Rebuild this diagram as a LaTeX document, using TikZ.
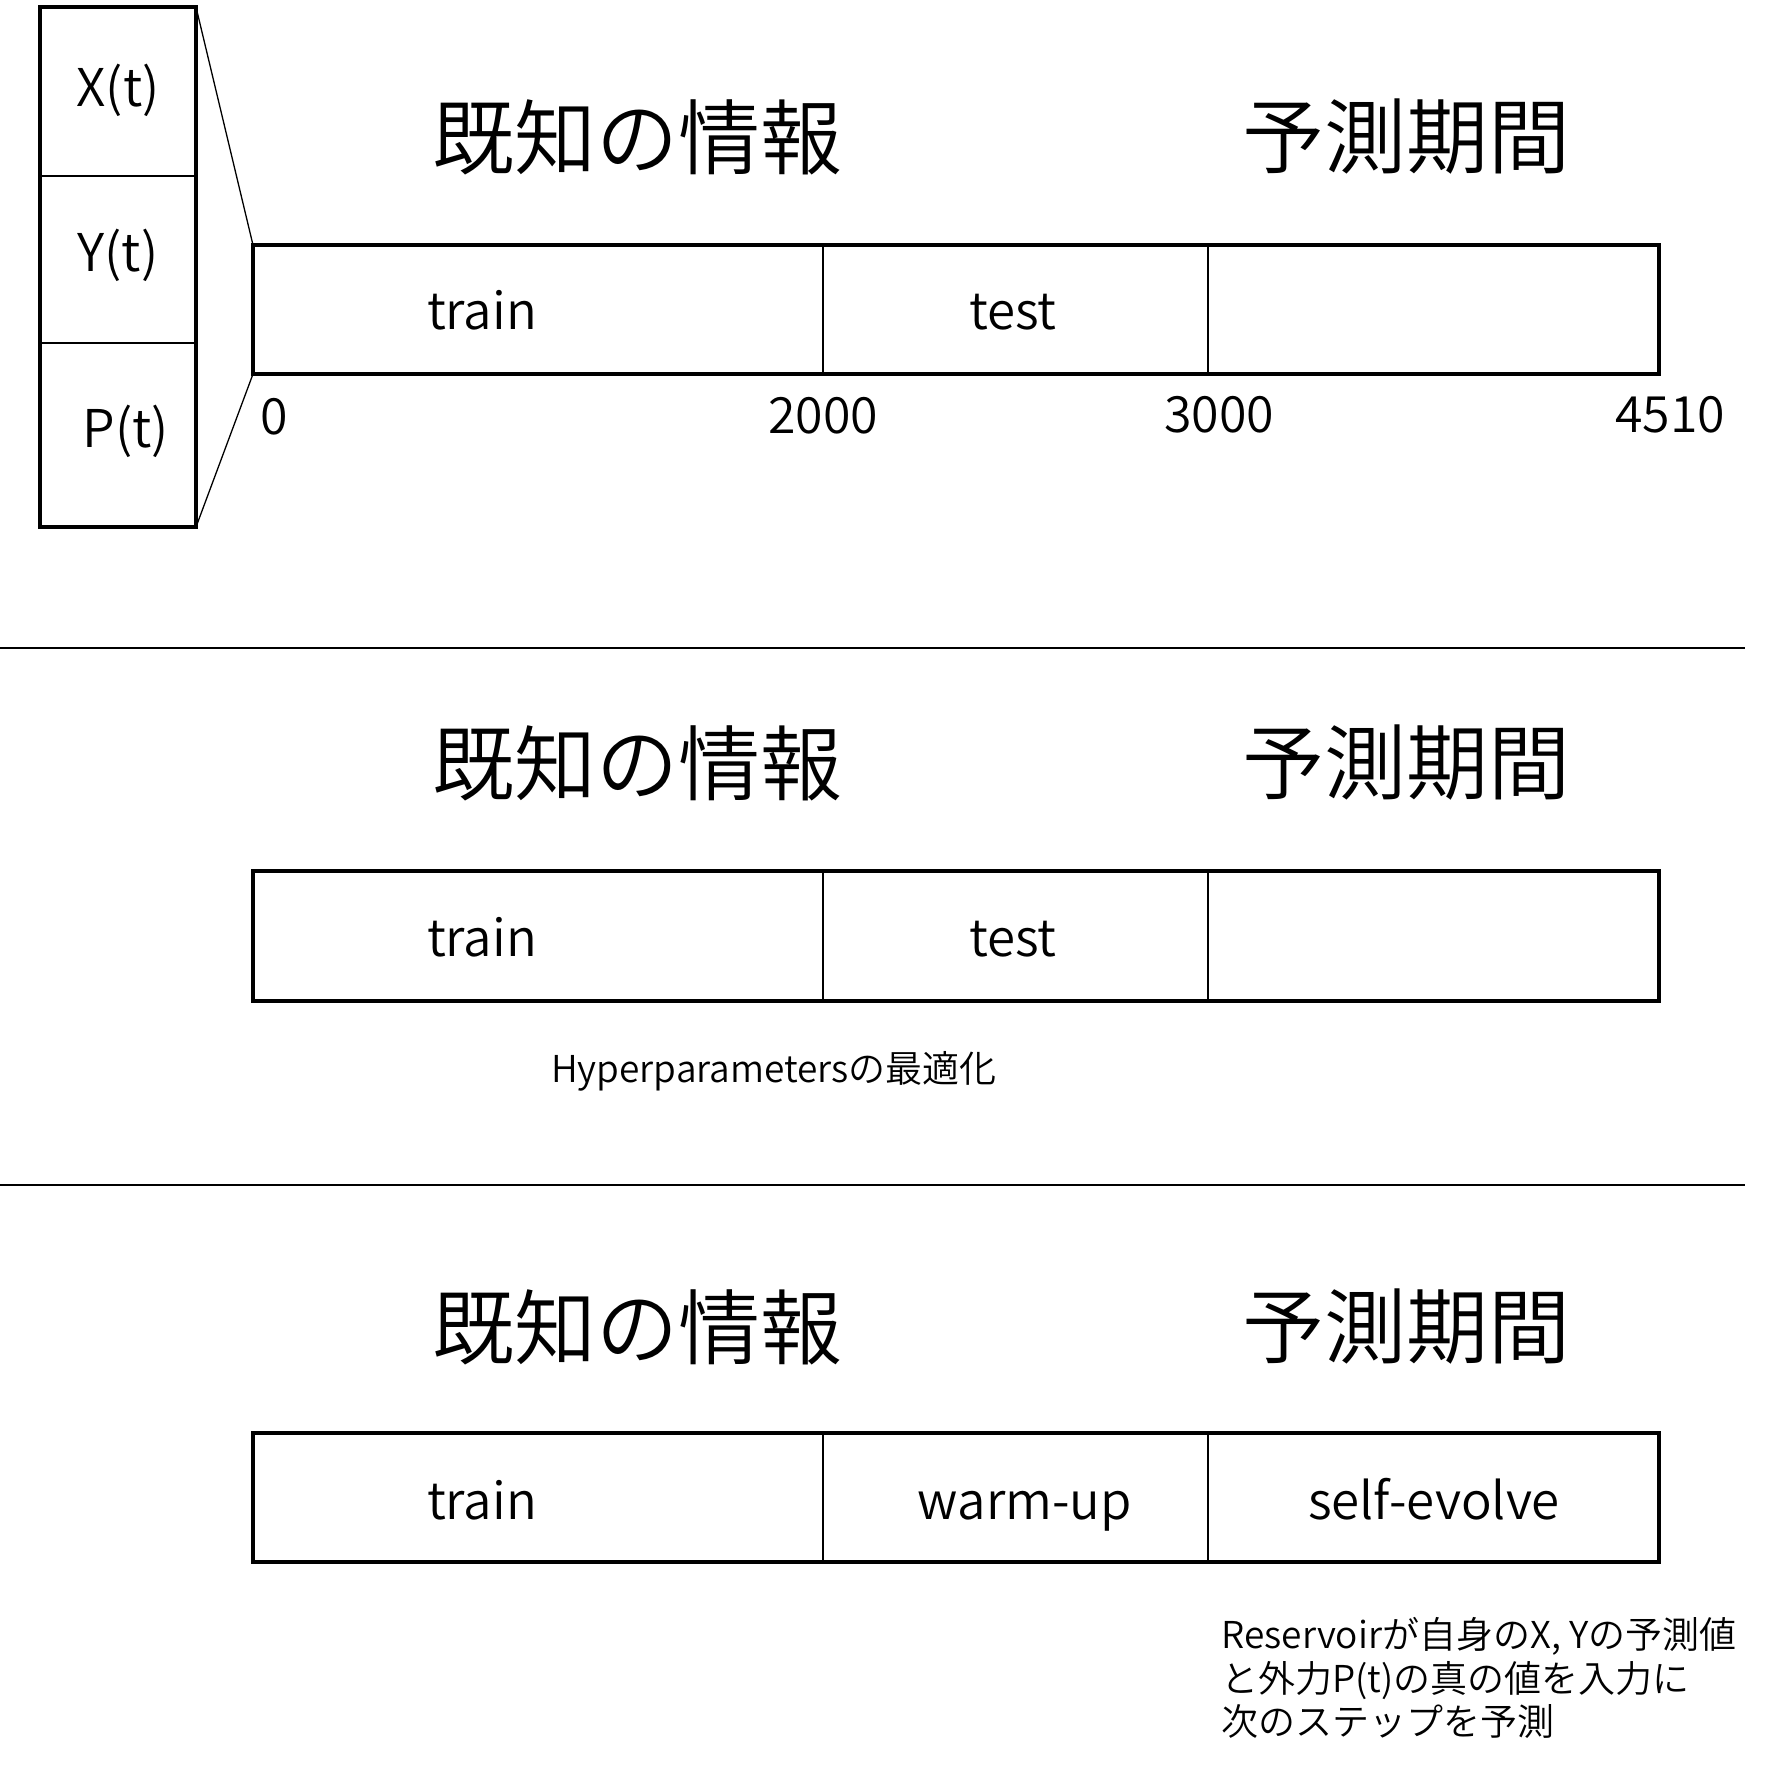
\documentclass[tikz,border=0pt]{standalone}
\usepackage{fontspec}
\setmainfont{Noto Sans CJK JP}[UprightFont=* DemiLight]
\usetikzlibrary{calc}
\begin{document}
\begin{tikzpicture}[x=0.5pt,y=-0.5pt,
  thickbox/.style={draw=black, line width=2pt, inner sep=0pt, outer sep=0pt},
  divider/.style={draw=black, line width=0.75pt},
  thinline/.style={draw=black, line width=0.65pt},
  sepline/.style={draw=black, line width=1pt},
  titletext/.style={font=\fontsize{41}{49}\selectfont, inner sep=0pt},
  segtext/.style={font=\fontsize{25.5}{31}\selectfont, inner sep=0pt, anchor=base},
  numtext/.style={font=\fontsize{25}{30}\selectfont, inner sep=0pt},
  vartext/.style={font=\fontsize{26}{31}\selectfont, inner sep=0pt},
  notetext/.style={font=\fontsize{18.5}{21.5}\selectfont, inner sep=0pt},
]
\useasboundingbox (0,0) rectangle (1792,1769);

% left box with X, Y, P
\node[thickbox, minimum width=78pt, minimum height=260pt] (lbox) at (118,267) {};
\coordinate (ld1l) at (40,176);  \coordinate (ld1r) at (196,176);
\coordinate (ld2l) at (40,343);  \coordinate (ld2r) at (196,343);
\draw[divider] (ld1l) -- (ld1r);
\draw[divider] (ld2l) -- (ld2r);
\node[vartext] (xt) at (118,90) {X(t)};
\node[vartext] (yt) at (118,255) {Y(t)};
\node[vartext] (pt) at (126,431) {P(t)};

% ---------- section 1 ----------
\node[titletext] (t1a) at (637,137) {既知の情報};
\node[titletext] (t1b) at (1406,137) {予測期間};
\node[thickbox, minimum width=703pt, minimum height=64.5pt] (bar1) at (956,309.5) {};
\draw[divider] ($(bar1.north west)+(570,0)$) -- ($(bar1.south west)+(570,0)$);
\draw[divider] ($(bar1.north west)+(955,0)$) -- ($(bar1.south west)+(955,0)$);
\node[segtext] (s1a) at (482,329) {train};
\node[segtext] (s1b) at (1013,329) {test};
\node[numtext] (n0) at (274,417) {0};
\node[numtext] (n2000) at (823,416) {2000};
\node[numtext] (n3000) at (1219,415) {3000};
\node[numtext] (n4510) at (1670,415) {4510};

\draw[thinline] (lbox.north east) -- (bar1.north west);
\draw[thinline] (lbox.south east) -- (bar1.south west);

\coordinate (sep1l) at (0,648); \coordinate (sep1r) at (1745,648);
\draw[sepline] (sep1l) -- (sep1r);

% ---------- section 2 ----------
\node[titletext] (t2a) at (637,763) {既知の情報};
\node[titletext] (t2b) at (1406,763) {予測期間};
\node[thickbox, minimum width=703pt, minimum height=65pt] (bar2) at (956,936) {};
\draw[divider] ($(bar2.north west)+(570,0)$) -- ($(bar2.south west)+(570,0)$);
\draw[divider] ($(bar2.north west)+(955,0)$) -- ($(bar2.south west)+(955,0)$);
\node[segtext] (s2a) at (482,956) {train};
\node[segtext] (s2b) at (1013,956) {test};
\node[notetext] (hyp) at (774,1071) {Hyperparametersの最適化};

\coordinate (sep2l) at (0,1185); \coordinate (sep2r) at (1745,1185);
\draw[sepline] (sep2l) -- (sep2r);

% ---------- section 3 ----------
\node[titletext] (t3a) at (637,1327) {既知の情報};
\node[titletext] (t3b) at (1406,1327) {予測期間};
\node[thickbox, minimum width=703pt, minimum height=64.5pt] (bar3) at (956,1497.5) {};
\draw[divider] ($(bar3.north west)+(570,0)$) -- ($(bar3.south west)+(570,0)$);
\draw[divider] ($(bar3.north west)+(955,0)$) -- ($(bar3.south west)+(955,0)$);
\node[segtext] (s3a) at (482,1519) {train};
\node[segtext] (s3b) at (1025,1519) {warm-up};
\node[segtext] (s3c) at (1434,1519) {self-evolve};

\node[notetext, anchor=base west] (note1) at (1221,1648) {Reservoirが自身のX, Yの予測値};
\node[notetext, anchor=base west] (note2) at (1221,1692) {と外力P(t)の真の値を入力に};
\node[notetext, anchor=base west] (note3) at (1221,1735) {次のステップを予測};
\end{tikzpicture}
\end{document}
